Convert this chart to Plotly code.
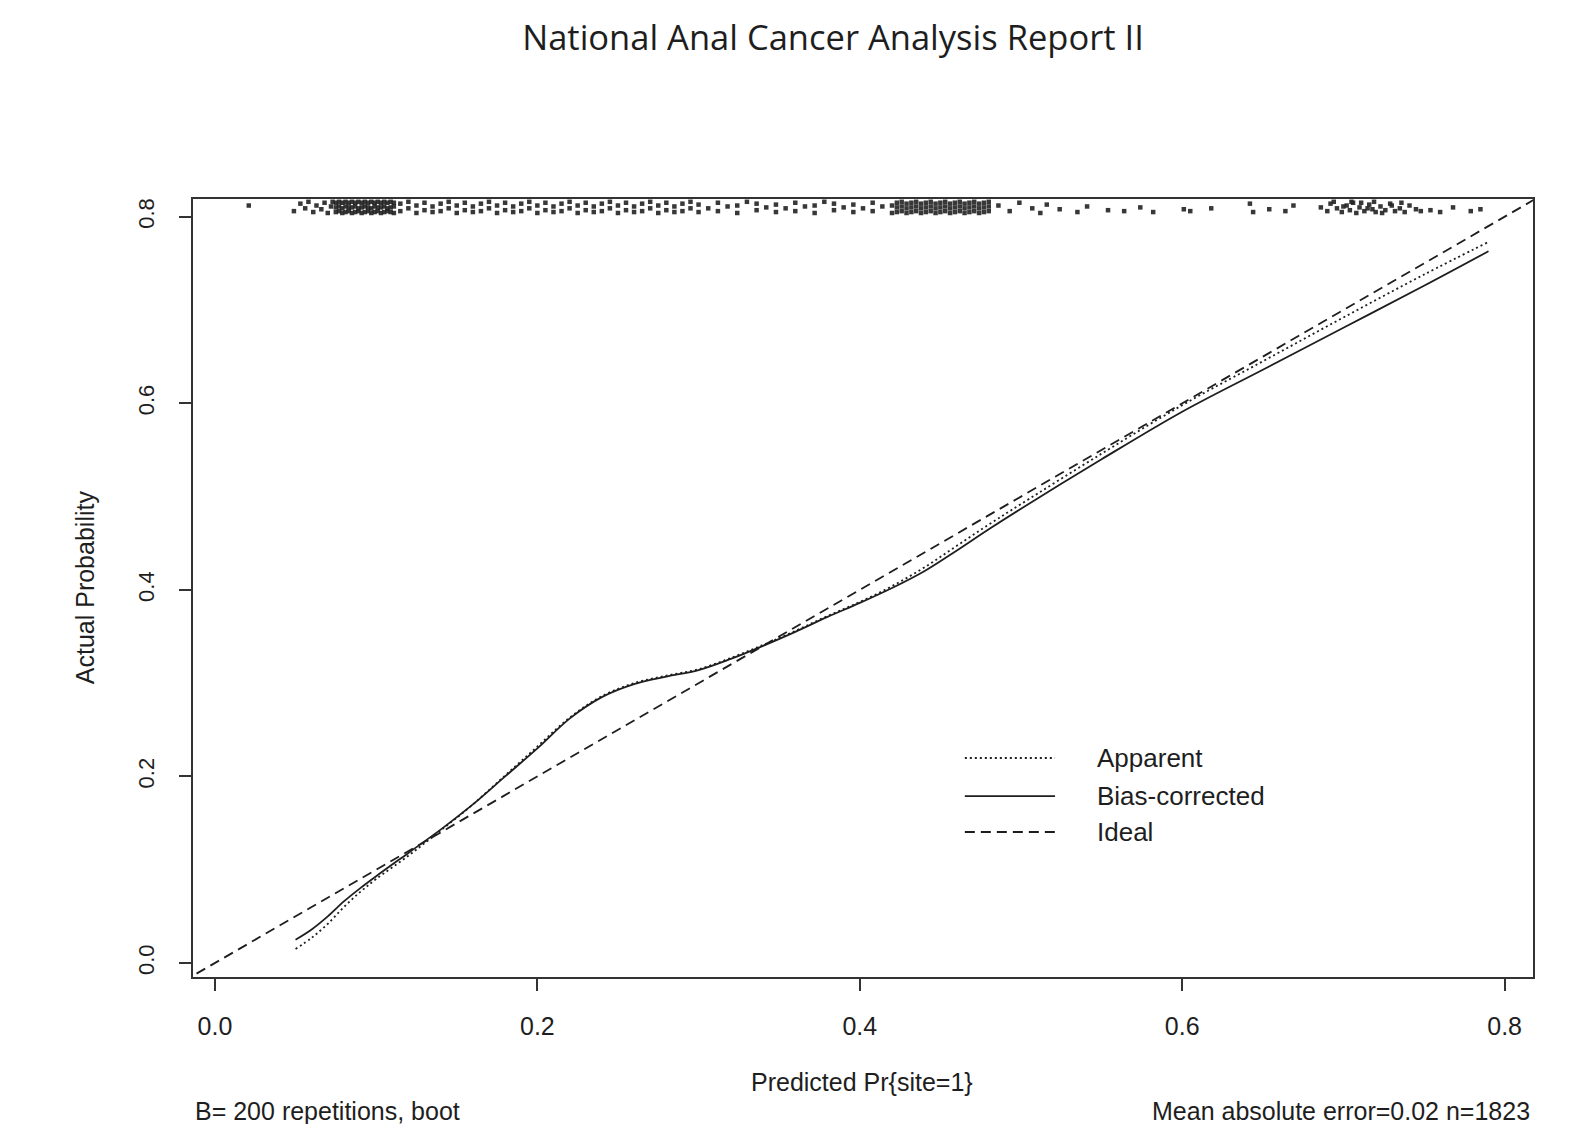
import plotly.graph_objects as go

# ---------------- data ----------------
cal_x = [0.05, 0.06, 0.07, 0.08, 0.09, 0.10, 0.12, 0.14, 0.16, 0.18, 0.20, 0.22,
         0.24, 0.26, 0.28, 0.30, 0.32, 0.34, 0.36, 0.38, 0.40, 0.42, 0.44, 0.46,
         0.48, 0.50, 0.55, 0.60, 0.65, 0.70, 0.75, 0.79]
bias_corrected = [0.025, 0.036, 0.050, 0.066, 0.080, 0.093, 0.118, 0.143, 0.170, 0.200,
                  0.230, 0.262, 0.285, 0.299, 0.307, 0.314, 0.326, 0.340, 0.355, 0.371,
                  0.386, 0.402, 0.420, 0.442, 0.465, 0.487, 0.540, 0.591, 0.636, 0.681,
                  0.726, 0.763]
apparent = [0.015, 0.027, 0.042, 0.060, 0.076, 0.090, 0.115, 0.142, 0.170, 0.201,
            0.232, 0.263, 0.286, 0.300, 0.308, 0.315, 0.327, 0.341, 0.356, 0.372,
            0.387, 0.404, 0.424, 0.447, 0.470, 0.492, 0.546, 0.598, 0.645, 0.692,
            0.738, 0.773]
ideal_x = [-0.02, 0.83]
ideal_y = [-0.02, 0.83]

rug_x = [
    0.021, 0.049, 0.053, 0.056, 0.058, 0.061, 0.063, 0.066, 0.068, 0.070, 0.072, 0.073,
    0.075, 0.075, 0.075, 0.077, 0.077, 0.077, 0.079, 0.079, 0.079, 0.081, 0.081, 0.081,
    0.083, 0.083, 0.083, 0.085, 0.085, 0.085, 0.087, 0.087, 0.087, 0.089, 0.089, 0.089,
    0.091, 0.091, 0.091, 0.093, 0.093, 0.093, 0.095, 0.095, 0.095, 0.097, 0.097, 0.097,
    0.099, 0.099, 0.099, 0.101, 0.101, 0.101, 0.103, 0.103, 0.103, 0.105, 0.105, 0.105,
    0.107, 0.107, 0.107, 0.109, 0.109, 0.109, 0.111, 0.111, 0.111,
    0.115, 0.115, 0.120, 0.120, 0.125, 0.125, 0.130, 0.130, 0.135, 0.135, 0.140, 0.140,
    0.145, 0.145, 0.150, 0.150, 0.155, 0.155, 0.160, 0.160, 0.165, 0.165, 0.170, 0.170,
    0.175, 0.175, 0.180, 0.180, 0.185, 0.185, 0.190, 0.190, 0.195, 0.195, 0.200, 0.200,
    0.205, 0.205, 0.210, 0.210, 0.215, 0.215, 0.220, 0.220, 0.225, 0.225, 0.230, 0.230,
    0.235, 0.235, 0.240, 0.240, 0.245, 0.245, 0.250, 0.250, 0.255, 0.255, 0.260, 0.260,
    0.265, 0.265, 0.270, 0.270, 0.275, 0.275, 0.280, 0.280, 0.285, 0.285, 0.290, 0.290,
    0.295, 0.295,
    0.300, 0.300, 0.306, 0.312, 0.312, 0.318, 0.324, 0.324, 0.330, 0.336, 0.336, 0.342,
    0.348, 0.348, 0.354, 0.360, 0.360, 0.366, 0.372, 0.372, 0.378, 0.384, 0.384, 0.390,
    0.396, 0.396, 0.402, 0.408, 0.408, 0.414, 0.420, 0.420,
    0.423, 0.423, 0.423, 0.426, 0.426, 0.426, 0.429, 0.429, 0.429, 0.432, 0.432, 0.432,
    0.435, 0.435, 0.435, 0.438, 0.438, 0.438, 0.441, 0.441, 0.441, 0.444, 0.444, 0.444,
    0.447, 0.447, 0.447, 0.450, 0.450, 0.450, 0.453, 0.453, 0.453, 0.456, 0.456, 0.456,
    0.459, 0.459, 0.459, 0.462, 0.462, 0.462, 0.465, 0.465, 0.465, 0.468, 0.468, 0.468,
    0.471, 0.471, 0.471, 0.474, 0.474, 0.474, 0.477, 0.477, 0.477, 0.480, 0.480, 0.480,
    0.486, 0.493, 0.499, 0.507, 0.512, 0.516, 0.524, 0.535, 0.541, 0.554, 0.564, 0.574,
    0.582, 0.601, 0.605, 0.618, 0.642, 0.644, 0.654, 0.664, 0.669,
    0.686, 0.690, 0.692, 0.696, 0.699, 0.702, 0.704, 0.706, 0.708, 0.710, 0.713, 0.716,
    0.718, 0.720, 0.723, 0.726, 0.729, 0.732, 0.735, 0.738, 0.741, 0.745, 0.748,
    0.694, 0.700, 0.705, 0.711, 0.715, 0.719, 0.724, 0.730, 0.736,
    0.754, 0.760, 0.768, 0.779, 0.785,
]
rug_y = [
    0.812, 0.806, 0.814, 0.809, 0.816, 0.805, 0.812, 0.808, 0.815, 0.804, 0.811, 0.816,
    0.805, 0.810, 0.815, 0.806, 0.811, 0.816, 0.804, 0.809, 0.815, 0.805, 0.811, 0.816,
    0.806, 0.810, 0.815, 0.804, 0.810, 0.816, 0.805, 0.811, 0.815, 0.806, 0.809, 0.816,
    0.804, 0.810, 0.815, 0.805, 0.811, 0.816, 0.806, 0.810, 0.815, 0.804, 0.809, 0.816,
    0.805, 0.811, 0.815, 0.806, 0.810, 0.816, 0.804, 0.810, 0.815, 0.805, 0.811, 0.816,
    0.806, 0.809, 0.815, 0.805, 0.810, 0.816, 0.804, 0.811, 0.815,
    0.806, 0.814, 0.809, 0.816, 0.804, 0.812, 0.807, 0.815, 0.805, 0.811, 0.806, 0.814,
    0.809, 0.816, 0.804, 0.812, 0.807, 0.815, 0.805, 0.811, 0.806, 0.814, 0.809, 0.816,
    0.804, 0.812, 0.807, 0.815, 0.805, 0.811, 0.806, 0.814, 0.809, 0.816, 0.804, 0.812,
    0.807, 0.815, 0.805, 0.811, 0.806, 0.814, 0.809, 0.816, 0.804, 0.812, 0.807, 0.815,
    0.805, 0.811, 0.806, 0.814, 0.809, 0.816, 0.804, 0.812, 0.807, 0.815, 0.805, 0.811,
    0.806, 0.814, 0.809, 0.816, 0.804, 0.812, 0.807, 0.815, 0.805, 0.811, 0.806, 0.814,
    0.809, 0.816,
    0.805, 0.813, 0.809, 0.806, 0.815, 0.811, 0.804, 0.812, 0.816, 0.807, 0.814, 0.810,
    0.805, 0.813, 0.809, 0.806, 0.815, 0.811, 0.804, 0.812, 0.816, 0.807, 0.814, 0.810,
    0.805, 0.813, 0.809, 0.806, 0.815, 0.811, 0.804, 0.812,
    0.805, 0.810, 0.815, 0.806, 0.811, 0.816, 0.804, 0.809, 0.814, 0.805, 0.810, 0.815,
    0.806, 0.811, 0.816, 0.804, 0.809, 0.814, 0.805, 0.810, 0.815, 0.806, 0.811, 0.816,
    0.804, 0.809, 0.814, 0.805, 0.810, 0.815, 0.806, 0.811, 0.816, 0.804, 0.809, 0.814,
    0.805, 0.810, 0.815, 0.806, 0.811, 0.816, 0.804, 0.809, 0.814, 0.805, 0.810, 0.815,
    0.806, 0.811, 0.816, 0.804, 0.809, 0.814, 0.805, 0.810, 0.815, 0.806, 0.811, 0.816,
    0.812, 0.806, 0.815, 0.809, 0.804, 0.813, 0.808, 0.805, 0.811, 0.807, 0.806, 0.810,
    0.805, 0.808, 0.806, 0.809, 0.814, 0.805, 0.808, 0.806, 0.812,
    0.810, 0.806, 0.814, 0.809, 0.805, 0.812, 0.807, 0.815, 0.804, 0.810, 0.806, 0.813,
    0.808, 0.805, 0.811, 0.807, 0.814, 0.806, 0.809, 0.805, 0.812, 0.808, 0.806,
    0.816, 0.811, 0.816, 0.815, 0.809, 0.816, 0.804, 0.812, 0.815,
    0.807, 0.805, 0.810, 0.806, 0.808,
]

tick_vals = [0.0, 0.2, 0.4, 0.6, 0.8]
tick_text = ["0.0", "0.2", "0.4", "0.6", "0.8"]
legend_labels = ["Apparent", "Bias-corrected", "Ideal"]

title_text = "National Anal Cancer Analysis Report II"
x_title = "Predicted Pr{site=1}"
y_title = "Actual Probability"
footer_left = "B= 200 repetitions, boot"
footer_right = "Mean absolute error=0.02 n=1823"

# ---------------- styling ----------------
INK = "#1e1e1e"
FONT = "Liberation Sans, Arial, sans-serif"

fig = go.Figure()

fig.add_trace(go.Scatter(
    x=rug_x, y=rug_y, mode="markers",
    marker=dict(symbol="square", size=4.5, color="#222", opacity=0.9, line=dict(width=0)),
    hoverinfo="skip", showlegend=False, cliponaxis=False))

fig.add_trace(go.Scatter(
    x=ideal_x, y=ideal_y, mode="lines", name="Ideal",
    line=dict(color=INK, width=1.8, dash="10px,6px"), showlegend=False))

fig.add_trace(go.Scatter(
    x=cal_x, y=apparent, mode="lines", name="Apparent", line_shape="spline",
    line=dict(color=INK, width=1.8, dash="2px,3px"), showlegend=False))

fig.add_trace(go.Scatter(
    x=cal_x, y=bias_corrected, mode="lines", name="Bias-corrected", line_shape="spline",
    line=dict(color=INK, width=1.8), showlegend=False))

axis_common = dict(
    tickvals=tick_vals, ticktext=tick_text, ticks="outside", ticklen=12, tickwidth=1.5,
    tickcolor="#333", showline=True, linecolor="#333", linewidth=2, mirror=True,
    showgrid=False, zeroline=False,
)

fig.update_xaxes(range=[-0.0136, 0.8176], ticklabelstandoff=14,
                 tickfont=dict(family=FONT, size=25, color=INK), **axis_common)
fig.update_yaxes(range=[-0.015, 0.819], tickangle=-90, ticklabelstandoff=16,
                 tickfont=dict(family=FONT, size=22, color=INK), **axis_common)

# legend drawn R-style inside the plot
leg_y = [0.2815, 0.2326, 0.1864]
leg_dash = ["2px,3px", "solid", "10px,6px"]
shapes = []
annotations = []
for yy, dd, lab in zip(leg_y, leg_dash, legend_labels):
    shapes.append(dict(type="line", xref="paper", yref="paper", x0=0.576, x1=0.6433,
                       y0=yy, y1=yy, line=dict(color=INK, width=1.8, dash=dd)))
    annotations.append(dict(text=lab, xref="paper", yref="paper", x=0.673, y=yy,
                            xanchor="left", yanchor="middle", showarrow=False,
                            font=dict(family=FONT, size=26, color=INK)))

annotations += [
    dict(text=x_title, xref="paper", yref="paper", x=0.4993, y=-0.135, xanchor="center",
         yanchor="middle", showarrow=False, font=dict(family=FONT, size=25, color=INK)),
    dict(text=y_title, xref="paper", yref="paper", x=-0.0806, y=0.501, xanchor="center",
         yanchor="middle", textangle=-90, showarrow=False,
         font=dict(family=FONT, size=25, color=INK)),
    dict(text=footer_left, xref="paper", yref="paper", x=0.0, y=-0.1722, xanchor="left",
         yanchor="middle", showarrow=False, font=dict(family=FONT, size=25, color=INK)),
    dict(text=footer_right, xref="paper", yref="paper", x=0.9995, y=-0.1722, xanchor="right",
         yanchor="middle", showarrow=False, font=dict(family=FONT, size=25, color=INK)),
]

# page body adds an 8px margin, so the figure is sized/offset to land the
# plot box at the reference position within the 1571x1132 window
fig.update_layout(
    width=1555, height=1116,
    margin=dict(l=185, r=30, t=191, b=147),
    paper_bgcolor="white", plot_bgcolor="white",
    title=dict(text=title_text, x=825 / 1555, xanchor="center", y=1 - 30 / 1116,
               yanchor="middle",
               font=dict(family="Open Sans, Noto Sans, sans-serif", size=34.5, color=INK)),
    shapes=shapes, annotations=annotations, showlegend=False,
)

fig.write_html("out.html")
